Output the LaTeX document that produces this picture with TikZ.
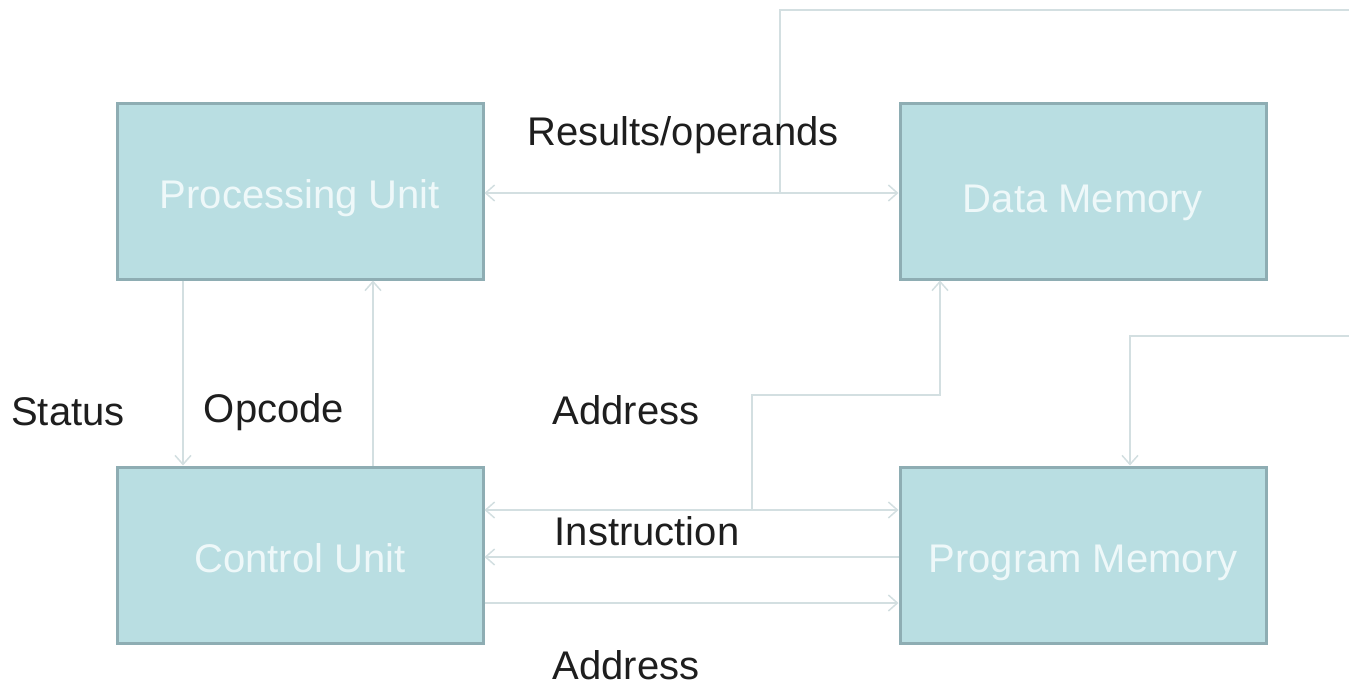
\documentclass[tikz,border=0pt]{standalone}
\usepackage{fontspec}
\setmainfont{Liberation Sans}
\usetikzlibrary{arrows.meta}
\definecolor{boxfill}{HTML}{B9DEE2}
\definecolor{boxedge}{HTML}{8EADB3}
\definecolor{boxtext}{HTML}{EEF8F9}
\definecolor{wire}{HTML}{D3DFE1}
\definecolor{labeltext}{HTML}{1E1E1E}
\tikzset{
  unit/.style={draw=boxedge, fill=boxfill, line width=3pt,
    minimum width=366pt, minimum height=176pt, inner sep=0pt,
    text height=34pt, text depth=0pt,
    text=boxtext, font=\fontsize{40}{44}\selectfont},
  barb/.tip={Straight Barb[length=9pt,width=16pt,line width=1.5pt]},
  wirestyle/.style={draw=wire, line width=2pt, -barb},
  bothways/.style={draw=wire, line width=2pt, barb-barb},
  tag/.style={text=labeltext, font=\fontsize{40}{44}\selectfont, inner sep=0pt}
}
\begin{document}
\begin{tikzpicture}[x=1pt,y=-1pt]
\useasboundingbox (0,0) rectangle (1349,686);

% functional blocks
\node[unit] (pu) at (300,191) {Processing Unit};
\node[unit, text height=42pt] (dm) at (1083,191) {Data Memory};
\node[unit] (cu) at (300,555) {Control Unit};
\node[unit] (pm) at (1083,555) {Program Memory};

% routing points
\coordinate (topR) at (1349,10);
\coordinate (pmR) at (1349,336);
\coordinate (tapA) at (780,193);
\coordinate (tapB) at (752,510);

% data bus between processing unit and data memory
\draw[bothways] (pu.east |- tapA) -- (dm.west |- tapA);
\draw[draw=wire, line width=2pt] (tapA) |- (topR);

% feed into program memory
\draw[wirestyle] (pmR) -| ([xshift=47pt]pm.north);

% status and opcode
\draw[wirestyle] ([xshift=-117pt]pu.south) -- ([xshift=-117pt]cu.north);
\draw[wirestyle] ([xshift=73pt]cu.north) -- ([xshift=73pt]pu.south);

% instruction / address buses
\draw[bothways] (cu.east |- tapB) -- (pm.west |- tapB);
\draw[wirestyle] (tapB) |- (940,395) -- ([xshift=-143pt]dm.south);
\draw[wirestyle] (pm.west |- 0,557) -- (cu.east |- 0,557);
\draw[wirestyle] (cu.east |- 0,603) -- (pm.west |- 0,603);

% labels
\node[tag] (lres) at (683,135) {Results/operands};
\node[tag] (lstat) at (68,412) {Status};
\node[tag] (lop) at (274,412) {Opcode};
\node[tag] (laddr1) at (626,410) {Address};
\node[tag] (linstr) at (647,531) {Instruction};
\node[tag] (laddr2) at (626,665) {Address};
\end{tikzpicture}
\end{document}
